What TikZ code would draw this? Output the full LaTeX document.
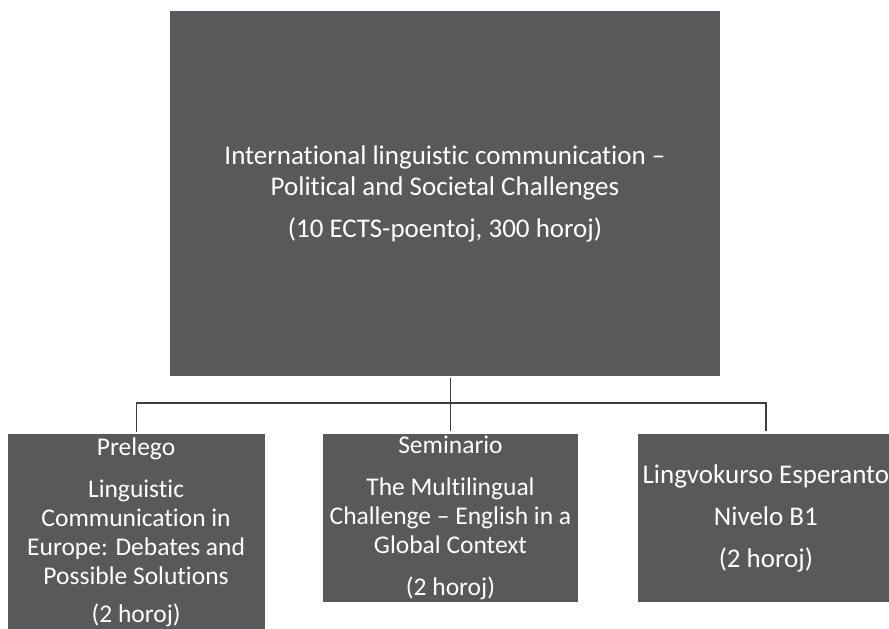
\documentclass[tikz,border=0pt]{standalone}
\usepackage{fontspec}
\setmainfont{Carlito}[Ligatures={TeX,NoCommon}]
\usetikzlibrary{positioning}
\definecolor{boxgray}{RGB}{89,89,91}
\definecolor{linegray}{RGB}{62,62,62}
\tikzset{
  topic/.style={fill=boxgray,text=white,minimum width=550pt,minimum height=365pt,
    align=center,font=\fontsize{27}{31}\selectfont,inner sep=0pt},
  unit/.style={fill=boxgray,text=white,minimum width=255pt,minimum height=168pt,
    align=center,font=\fontsize{25.5}{29}\selectfont,inner sep=0pt},
  link/.style={draw=linegray,line width=1.2pt,shorten <=2pt,shorten >=3pt},
}

\begin{document}
\begin{tikzpicture}
  \useasboundingbox (0,0) rectangle (889pt,-629pt);
  \node[topic] (top) at (445pt,-193.5pt)
    {International linguistic communication –\\Political and Societal Challenges\\[11pt]
     (10 ECTS-poentoj, 300 horoj)};

  \node[unit,anchor=north] (sem) at (450.5pt,-434pt)
    {Seminario\\[13pt]The Multilingual\\Challenge – English in a\\Global Context\\[13pt](2 horoj)};
  \node[unit,left=58pt of sem.north west,anchor=north east,minimum width=257pt,
    minimum height=196pt] (lec)
    {Prelego\\[13pt]Linguistic\\Communication in\\Europe: Debates and\\Possible Solutions\\[9pt](2 horoj)};
  \node[unit,right=60pt of sem.north east,anchor=north west,
    font=\fontsize{27}{42}\selectfont] (lang)
    {Lingvokurso Esperanto\\Nivelo B1\\(2 horoj)};

  \draw[link] (top.south -| sem.north) -- (sem.north);
  \draw[link] (lec.north) -- ++(0,31pt) -| (lang.north);
\end{tikzpicture}
\end{document}
